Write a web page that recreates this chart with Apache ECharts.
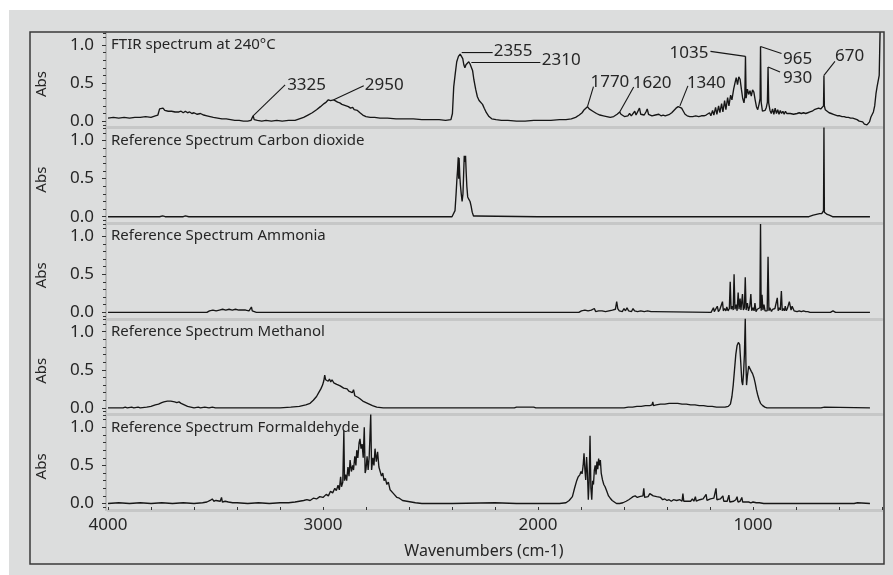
<!DOCTYPE html>
<html>
<head>
<meta charset="utf-8">
<script src="https://cdn.jsdelivr.net/npm/echarts@6/dist/echarts.min.js"></script>
<style>
  html, body { margin: 0; padding: 0; background: #ffffff; }
  #wrap { position: relative; width: 893px; height: 575px; background: #ffffff; }
  #panel { position: absolute; left: 9px; top: 10px; right: 0; bottom: 0; background: #dcdddd; }
  #chart { position: absolute; left: 0; top: 0; width: 893px; height: 575px; }
</style>
</head>
<body>
<div id="wrap"><div id="panel"></div><div id="chart"></div></div>
<script>
// ---- data: absorbance vs wavenumber (cm-1) ----
const wavenumberTicks = [4000, 3000, 2000, 1000];
const absTicks = [0, 0.5, 1.0];
const absMinorTicks = [-0.05, 0.1, 0.2, 0.3, 0.4, 0.6, 0.7, 0.8, 0.9, 1.1, 1.16];
const panelTitles = [
  'FTIR spectrum at 240°C',
  'Reference Spectrum Carbon dioxide',
  'Reference Spectrum Ammonia',
  'Reference Spectrum Methanol',
  'Reference Spectrum Formaldehyde'
];
const peakMarks = [3325, 2950, 2355, 2310, 1770, 1620, 1340, 1035, 965, 930, 670];

const ftir240 = [
  [4000,0.04],[3975,0.05],[3950,0.04],[3925,0.05],[3900,0.04],[3875,0.05],[3850,0.05],[3825,0.06],[3800,0.05],[3780,0.07],[3768,0.08],[3760,0.16],[3752,0.15],[3744,0.17],[3736,0.14],[3728,0.16],[3720,0.13],[3712,0.15],[3704,0.13],[3696,0.14],[3688,0.12],[3680,0.14],[3670,0.12],[3660,0.13],[3650,0.11],[3640,0.13],[3630,0.11],[3620,0.12],[3610,0.1],[3600,0.11],[3585,0.09],[3570,0.1],[3555,0.08],[3540,0.07],[3525,0.06],[3510,0.05],[3490,0.04],[3470,0.03],[3450,0.03],[3430,0.02],[3410,0.01],[3390,0.01],[3370,0.0],[3350,0.0],[3335,0.01],[3328,0.02],[3325,0.07],[3320,0.02],[3305,0.01],[3285,0.0],[3265,0.01],[3240,0.0],[3215,0.01],[3190,0.0],[3160,0.01],[3130,0.01],[3110,0.03],[3090,0.05],[3070,0.08],[3050,0.11],[3030,0.15],[3012,0.19],[2995,0.23],[2985,0.25],[2975,0.28],[2965,0.27],[2958,0.28],[2950,0.28],[2942,0.26],[2932,0.25],[2922,0.24],[2912,0.22],[2902,0.21],[2892,0.2],[2882,0.19],[2872,0.17],[2862,0.18],[2855,0.15],[2848,0.17],[2840,0.14],[2828,0.11],[2815,0.08],[2800,0.06],[2780,0.05],[2760,0.05],[2735,0.04],[2700,0.04],[2660,0.03],[2620,0.03],[2580,0.03],[2540,0.02],[2500,0.02],[2460,0.02],[2430,0.01],[2405,0.02],[2398,0.1],[2392,0.45],[2385,0.62],[2378,0.78],[2370,0.85],[2362,0.88],[2355,0.9],[2350,0.82],[2345,0.74],[2340,0.7],[2335,0.74],[2328,0.72],[2322,0.78],[2316,0.75],[2310,0.77],[2304,0.66],[2298,0.54],[2290,0.42],[2282,0.32],[2274,0.27],[2266,0.26],[2258,0.22],[2250,0.17],[2240,0.11],[2228,0.06],[2215,0.03],[2195,0.02],[2170,0.01],[2140,0.01],[2100,0.0],[2060,0.0],[2020,0.01],[1980,0.01],[1940,0.01],[1900,0.02],[1870,0.02],[1845,0.03],[1825,0.05],[1808,0.08],[1795,0.11],[1785,0.15],[1776,0.17],[1770,0.19],[1762,0.16],[1754,0.15],[1745,0.13],[1736,0.12],[1728,0.1],[1720,0.11],[1712,0.08],[1704,0.1],[1696,0.07],[1688,0.09],[1680,0.06],[1672,0.08],[1664,0.05],[1656,0.07],[1648,0.06],[1640,0.08],[1632,0.09],[1626,0.11],[1620,0.12],[1614,0.09],[1606,0.08],[1598,0.06],[1590,0.08],[1582,0.07],[1574,0.1],[1566,0.07],[1558,0.09],[1550,0.13],[1544,0.08],[1536,0.1],[1528,0.17],[1522,0.09],[1514,0.1],[1506,0.08],[1498,0.12],[1492,0.16],[1486,0.09],[1478,0.1],[1470,0.07],[1462,0.09],[1454,0.08],[1446,0.07],[1438,0.09],[1428,0.07],[1418,0.08],[1408,0.07],[1398,0.08],[1388,0.09],[1378,0.11],[1368,0.14],[1358,0.17],[1348,0.19],[1340,0.2],[1332,0.17],[1324,0.13],[1316,0.09],[1306,0.07],[1294,0.06],[1280,0.06],[1266,0.07],[1252,0.06],[1240,0.07],[1228,0.07],[1218,0.08],[1210,0.07],[1202,0.11],[1196,0.07],[1188,0.14],[1182,0.08],[1174,0.18],[1168,0.09],[1160,0.2],[1154,0.11],[1146,0.23],[1140,0.12],[1132,0.27],[1126,0.15],[1118,0.31],[1112,0.2],[1104,0.34],[1098,0.28],[1090,0.42],[1084,0.5],[1078,0.57],[1072,0.48],[1066,0.58],[1060,0.55],[1054,0.42],[1048,0.3],[1042,0.24],[1038,0.32],[1035,0.85],[1032,0.3],[1026,0.42],[1020,0.35],[1014,0.4],[1008,0.33],[1002,0.41],[996,0.38],[990,0.28],[984,0.19],[978,0.15],[972,0.22],[967,0.3],[965,0.98],[962,0.25],[956,0.13],[950,0.11],[944,0.14],[938,0.18],[933,0.25],[930,0.71],[927,0.24],[921,0.14],[915,0.1],[909,0.16],[903,0.09],[897,0.17],[891,0.1],[885,0.15],[879,0.09],[873,0.14],[867,0.1],[861,0.13],[855,0.09],[849,0.13],[843,0.1],[835,0.12],[827,0.1],[819,0.11],[811,0.09],[803,0.11],[795,0.1],[785,0.11],[775,0.1],[765,0.11],[755,0.1],[745,0.11],[735,0.12],[725,0.13],[715,0.15],[705,0.16],[695,0.17],[685,0.16],[676,0.15],[672,0.2],[670,0.6],[668,0.2],[664,0.15],[656,0.13],[646,0.11],[636,0.1],[626,0.09],[616,0.08],[606,0.07],[596,0.07],[586,0.06],[576,0.06],[566,0.05],[556,0.05],[546,0.04],[536,0.04],[526,0.03],[516,0.02],[506,0.0],[498,-0.02],[490,-0.01],[482,-0.04],[476,-0.02],[470,-0.05],[464,-0.03],[458,-0.01],[452,0.05],[446,0.03],[440,0.12],[434,0.2],[428,0.36],[423,0.45],[418,0.44],[413,0.6],[409,1.17]
];

const co2Ref = [
  [4000,0],[3800,0],[3760,0],[3752,0.02],[3746,0.01],[3740,0.02],[3734,0],[3650,0],[3640,0.01],[3632,0.02],[3624,0],[3500,0],[3000,0],[2500,0],[2400,0],[2392,0.01],[2386,0.08],[2381,0.3],[2377,0.5],[2374,0.62],[2371,0.78],[2369,0.5],[2367,0.77],[2364,0.55],[2361,0.42],[2357,0.3],[2353,0.2],[2349,0.3],[2346,0.55],[2343,0.8],[2340,0.72],[2337,0.8],[2334,0.58],[2331,0.4],[2327,0.26],[2322,0.23],[2316,0.2],[2311,0.14],[2306,0.06],[2300,0.01],[2294,0.02],[2288,0.01],[2280,0],[2000,0],[1500,0],[1000,0],[760,0],[740,0],[730,0.01],[720,0.02],[712,0.04],[705,0.03],[698,0.05],[690,0.04],[684,0.06],[680,0.04],[676,0.05],[672,0.08],[670,1.17],[668,0.06],[664,0.04],[660,0.05],[655,0.03],[650,0.04],[645,0.02],[640,0.01],[630,0],[456,0]
];

const nh3Ref = [
  [4000,0],[3870,0],[3862,0.02],[3856,0],[3755,0],[3750,0.02],[3744,0],[3540,0],[3535,0.01],[3528,0.02],[3520,0.01],[3512,0.03],[3505,0.01],[3497,0.02],[3490,0.01],[3482,0.03],[3475,0.01],[3467,0.04],[3460,0.02],[3452,0.03],[3445,0.01],[3437,0.04],[3430,0.02],[3422,0.03],[3415,0.01],[3407,0.04],[3400,0.02],[3392,0.03],[3384,0.01],[3376,0.03],[3368,0.02],[3360,0.03],[3352,0.01],[3344,0.02],[3337,0.03],[3333,0.07],[3329,0.02],[3322,0.01],[3310,0],[3290,0],[3285,0.02],[3280,0],[3252,0],[3247,0.02],[3242,0],[3216,0],[3211,0.02],[3206,0],
  [1810,0],[1805,0.01],[1798,0.02],[1790,0.01],[1782,0.03],[1775,0.01],[1767,0.02],[1760,0.01],[1752,0.03],[1745,0.02],[1738,0.05],[1732,0.01],[1725,0.03],[1718,0.02],[1710,0.04],[1702,0.02],[1694,0.03],[1686,0.01],[1678,0.03],[1670,0.02],[1662,0.04],[1654,0.03],[1646,0.05],[1640,0.04],[1634,0.14],[1629,0.05],[1622,0.02],[1615,0.03],[1608,0.01],[1600,0.05],[1593,0.02],[1586,0.06],[1579,0.02],[1572,0.04],[1565,0.01],[1558,0.05],[1551,0.02],[1544,0.04],[1537,0.01],[1530,0.03],[1522,0.02],[1514,0.04],[1506,0.01],[1498,0.03],[1490,0.02],[1482,0.03],[1474,0.01],[1466,0.02],[1458,0.01],[1452,0],
  [1195,0],[1188,0.02],[1184,0.06],[1180,0.01],[1172,0.03],[1166,0.08],[1161,0.01],[1154,0.04],[1146,0.06],[1142,0.14],[1138,0.02],[1132,0.05],[1126,0.02],[1122,0.07],[1116,0.02],[1110,0.05],[1106,0.4],[1102,0.04],[1096,0.08],[1092,0.03],[1088,0.5],[1084,0.04],[1078,0.1],[1074,0.02],[1069,0.26],[1065,0.04],[1060,0.18],[1056,0.03],[1049,0.24],[1045,0.03],[1040,0.06],[1036,0.46],[1032,0.03],[1026,0.12],[1021,0.02],[1015,0.08],[1010,0.24],[1006,0.02],[1000,0.06],[995,0.02],[991,0.12],[986,0.01],[980,0.04],[974,0.02],[968,0.06],[965,1.16],[962,0.02],[958,0.23],[954,0.03],[949,0.1],[944,0.02],[938,0.04],[934,0.02],[930,0.73],[926,0.02],[922,0.06],[918,0.08],[914,0.01],[909,0.04],[904,0.02],[898,0.05],[892,0.03],[887,0.19],[883,0.02],[878,0.06],[873,0.03],[868,0.28],[864,0.02],[859,0.05],[854,0.02],[850,0.08],[845,0.02],[840,0.05],[835,0.03],[831,0.14],[827,0.16],[823,0.03],[818,0.08],[814,0.06],[809,0.02],[804,0.03],[795,0.01],[785,0.02],[775,0.01],[765,0.02],[755,0.01],[745,0.01],[735,0],[640,0],[634,0.02],[628,0.02],[622,0.01],[616,0],[456,0]
];

const meohRef = [
  [4000,0],[3930,0],[3920,0.01],[3910,0],[3890,0.01],[3880,0],[3860,0.01],[3850,0],[3820,0.01],[3800,0.02],[3780,0.04],[3765,0.05],[3750,0.07],[3740,0.08],[3732,0.07],[3724,0.09],[3716,0.08],[3708,0.09],[3700,0.07],[3690,0.08],[3680,0.07],[3670,0.08],[3660,0.06],[3645,0.04],[3630,0.02],[3615,0.01],[3600,0],[3580,0.01],[3570,0],[3550,0.01],[3530,0],[3515,0.01],[3500,0],[3200,0],[3150,0.01],[3110,0.02],[3080,0.04],[3060,0.06],[3045,0.1],[3030,0.15],[3020,0.2],[3010,0.25],[3002,0.3],[2996,0.36],[2992,0.43],[2988,0.37],[2982,0.39],[2976,0.35],[2970,0.38],[2964,0.34],[2958,0.37],[2950,0.33],[2944,0.35],[2936,0.31],[2928,0.33],[2920,0.29],[2912,0.28],[2904,0.26],[2896,0.24],[2888,0.25],[2880,0.22],[2872,0.24],[2864,0.2],[2858,0.24],[2852,0.16],[2846,0.18],[2838,0.14],[2828,0.12],[2815,0.09],[2800,0.07],[2785,0.05],[2770,0.03],[2750,0.01],[2720,0],
  [2110,0],[2100,0.01],[2090,0.01],[2070,0.01],[2040,0.01],[2020,0.01],[2010,0],[1600,0],[1580,0.01],[1560,0.01],[1540,0.02],[1520,0.02],[1500,0.03],[1480,0.03],[1470,0.04],[1466,0.08],[1463,0.03],[1450,0.04],[1430,0.05],[1410,0.05],[1390,0.06],[1370,0.06],[1350,0.06],[1330,0.05],[1310,0.05],[1290,0.04],[1270,0.04],[1250,0.03],[1230,0.03],[1210,0.02],[1190,0.02],[1170,0.01],[1150,0.01],[1130,0.01],[1115,0.02],[1105,0.05],[1098,0.15],[1092,0.3],[1086,0.5],[1080,0.7],[1074,0.82],[1068,0.86],[1062,0.83],[1057,0.6],[1052,0.35],[1048,0.3],[1044,0.45],[1040,0.7],[1036,1.17],[1033,0.6],[1030,0.3],[1026,0.42],[1020,0.55],[1014,0.53],[1008,0.48],[1002,0.45],[996,0.4],[990,0.33],[984,0.24],[978,0.17],[972,0.11],[965,0.06],[955,0.03],[945,0.01],[935,0],[700,0],[692,0.01],[684,0],[676,0.01],[668,0.01],[660,0],[456,0]
];

const hchoRef = [
  [4000,0],[3950,0.01],[3900,0],[3850,0.01],[3800,0],[3750,0.01],[3700,0],[3650,0.01],[3600,0],[3560,0.01],[3540,0.02],[3525,0.04],[3515,0.06],[3508,0.03],[3498,0.04],[3490,0.02],[3478,0.03],[3472,0.08],[3468,0.02],[3455,0.03],[3440,0.02],[3420,0.01],[3400,0.01],[3350,0],[3300,0.01],[3250,0],[3200,0.01],[3160,0.01],[3130,0.02],[3110,0.03],[3090,0.04],[3075,0.05],[3060,0.04],[3045,0.07],[3030,0.06],[3015,0.09],[3000,0.08],[2985,0.12],[2975,0.1],[2965,0.16],[2955,0.14],[2945,0.2],[2938,0.17],[2930,0.24],[2924,0.18],[2918,0.35],[2914,0.22],[2908,0.28],[2903,0.96],[2900,0.3],[2895,0.38],[2890,0.3],[2884,0.48],[2879,0.36],[2874,0.57],[2868,0.42],[2862,0.5],[2858,0.44],[2852,0.62],[2847,0.5],[2843,0.7],[2838,0.6],[2832,0.8],[2828,0.85],[2823,0.72],[2818,0.78],[2813,0.6],[2808,1.0],[2804,0.4],[2800,0.45],[2795,0.62],[2790,0.44],[2785,0.62],[2778,1.17],[2774,0.44],[2768,0.6],[2763,0.5],[2758,0.72],[2752,0.55],[2746,0.68],[2740,0.48],[2735,0.5],[2728,0.36],[2722,0.4],[2716,0.3],[2710,0.33],[2703,0.25],[2696,0.28],[2688,0.18],[2680,0.2],[2672,0.13],[2664,0.12],[2656,0.08],[2645,0.07],[2630,0.04],[2610,0.03],[2590,0.02],[2570,0.01],[2540,0],[2400,0],[2200,0.01],[2100,0],[2000,0],[1900,0],[1870,0.01],[1855,0.04],[1840,0.09],[1830,0.2],[1820,0.3],[1813,0.35],[1805,0.38],[1800,0.42],[1795,0.39],[1790,0.5],[1786,0.66],[1782,0.45],[1778,0.31],[1774,0.61],[1770,0.4],[1766,0.05],[1762,0.3],[1758,0.89],[1754,0.2],[1750,0.05],[1746,0.3],[1742,0.25],[1738,0.44],[1734,0.5],[1730,0.38],[1726,0.55],[1722,0.45],[1718,0.59],[1714,0.5],[1710,0.57],[1706,0.4],[1700,0.31],[1694,0.25],[1688,0.22],[1680,0.16],[1672,0.1],[1664,0.07],[1655,0.04],[1645,0.02],[1635,0],[1620,0],[1605,0.01],[1590,0.03],[1578,0.05],[1568,0.07],[1558,0.09],[1548,0.1],[1538,0.08],[1528,0.09],[1520,0.07],[1512,0.1],[1508,0.2],[1504,0.08],[1496,0.06],[1488,0.09],[1480,0.13],[1472,0.12],[1464,0.1],[1456,0.08],[1448,0.09],[1440,0.07],[1430,0.08],[1420,0.05],[1410,0.06],[1400,0.04],[1390,0.05],[1380,0.03],[1370,0.05],[1362,0.03],[1355,0.04],[1348,0.03],[1340,0.05],[1330,0.03],[1326,0.13],[1322,0.03],[1314,0.04],[1306,0.03],[1298,0.05],[1290,0.03],[1282,0.06],[1275,0.03],[1268,0.09],[1264,0.03],[1256,0.04],[1248,0.05],[1240,0.04],[1232,0.06],[1224,0.04],[1218,0.12],[1214,0.04],[1206,0.05],[1198,0.06],[1190,0.05],[1182,0.07],[1176,0.06],[1172,0.2],[1168,0.05],[1160,0.04],[1152,0.06],[1144,0.04],[1140,0.1],[1136,0.03],[1128,0.04],[1120,0.03],[1112,0.11],[1108,0.02],[1100,0.04],[1090,0.03],[1080,0.05],[1074,0.09],[1070,0.02],[1060,0.03],[1052,0.08],[1048,0.02],[1040,0.03],[1030,0.02],[1020,0.02],[1010,0.01],[1000,0.02],[985,0.01],[970,0.01],[950,0],[530,0],[522,0.01],[514,0.01],[506,0],[456,0]
];

const spectra = [ftir240, co2Ref, nh3Ref, meohRef, hchoRef];

// ---- layout ----
const PLOT_LEFT = 108, PLOT_RIGHT = 11, PANEL_TOP = 32, PANEL_H = 95.6;
const Y_MIN = -0.085, Y_MAX = 1.17;
const FONT = '"Noto Sans", "Liberation Sans", sans-serif';
const INK = '#161616';
const TEXT = '#262626';

// leader-line offsets (px) from each peak top, then text offset from the line end
const leaderLayout = {
  3325: { end: [32, -31], text: [2, 0, 'left'] },
  2950: { end: [30, -14], text: [1, -1, 'left'] },
  2355: { end: [31, 0], text: [1, -1, 'left'] },
  2310: { end: [69, 0], text: [1.5, -2.5, 'left'] },
  1770: { end: [6, -20], text: [-3, -4, 'left'] },
  1620: { end: [14, -25], text: [-1, -4, 'left'] },
  1340: { end: [8, -20], text: [-1, -3, 'left'] },
  1035: { end: [-35, -5], text: [-2, 2, 'right'] },
  965: { end: [21, 7], text: [1.5, 6, 'left'] },
  930: { end: [12, 5], text: [3, 6, 'left'] },
  670: { end: [11, -14], text: [0, -5, 'left'] }
};

const chart = echarts.init(document.getElementById('chart'), null, { renderer: 'canvas' });

const grids = [], xAxes = [], yAxes = [], series = [];
for (let i = 0; i < spectra.length; i++) {
  const last = i === spectra.length - 1;
  grids.push({ left: PLOT_LEFT, right: PLOT_RIGHT, top: PANEL_TOP + i * PANEL_H, height: PANEL_H, containLabel: false });
  xAxes.push({
    gridIndex: i, type: 'value', inverse: true, min: 400, max: 4000, interval: 200,
    axisLine: { show: true, onZero: false, lineStyle: { color: '#c6c7c7', width: 3 } },
    axisTick: { show: last, inside: true, length: 3, lineStyle: { color: '#333', width: 1 } },
    axisLabel: {
      show: last, customValues: wavenumberTicks, margin: 7,
      formatter: v => String(v), color: TEXT, fontSize: 17, fontFamily: FONT
    },
    splitLine: { show: false }
  });
}
for (let i = 0; i < spectra.length; i++) {
  yAxes.push({
    gridIndex: i, type: 'value', position: 'left', offset: 2, min: Y_MIN, max: Y_MAX,
    axisLine: { show: true, onZero: false, lineStyle: { color: '#b9baba', width: 2 } },
    axisTick: { show: true, customValues: absTicks, length: 4, lineStyle: { color: '#333', width: 1 } },
    axisLabel: {
      show: true, customValues: absTicks, margin: 12,
      formatter: v => v.toFixed(1), color: TEXT, fontSize: 17, fontFamily: FONT
    },
    splitLine: { show: false }
  });
}
for (let i = 0; i < spectra.length; i++) {
  yAxes.push({
    gridIndex: i, type: 'value', position: 'left', offset: 2, min: Y_MIN, max: Y_MAX,
    axisLine: { show: false },
    axisTick: { show: true, customValues: absMinorTicks, length: 3, lineStyle: { color: '#333', width: 1 } },
    axisLabel: { show: false },
    splitLine: { show: false }
  });
}
spectra.forEach((data, i) => {
  series.push({
    type: 'line', xAxisIndex: i, yAxisIndex: i, data: data,
    showSymbol: false, symbol: 'none', clip: false, z: 3,
    lineStyle: { color: INK, width: 1.35 },
    emphasis: { disabled: true }
  });
});

chart.setOption({
  animation: false,
  backgroundColor: 'transparent',
  grid: grids, xAxis: xAxes, yAxis: yAxes, series: series
});

// ---- titles, axis names, frame and peak annotations ----
const graphics = [];
graphics.push({
  type: 'rect', z: 20, silent: true,
  shape: { x: 30, y: 32, width: 854, height: 532 },
  style: { fill: 'none', stroke: '#3a3a3a', lineWidth: 1.5 }
});
panelTitles.forEach((t, i) => {
  const top = chart.convertToPixel({ xAxisIndex: i, yAxisIndex: i }, [4000, 1.0]);
  graphics.push({
    type: 'text', z: 20, silent: true, x: top[0] + 3, y: top[1],
    style: { text: t, fill: TEXT, font: '15px ' + FONT, textAlign: 'left', textVerticalAlign: 'middle' }
  });
  const mid = chart.convertToPixel({ xAxisIndex: i, yAxisIndex: i }, [4000, 0.5]);
  graphics.push({
    type: 'text', z: 20, silent: true, x: 42, y: mid[1] + 1, rotation: Math.PI / 2,
    style: { text: 'Abs', fill: TEXT, font: '15px ' + FONT, textAlign: 'center', textVerticalAlign: 'middle' }
  });
});
graphics.push({
  type: 'text', z: 20, silent: true, x: 484, y: 551,
  style: { text: 'Wavenumbers (cm-1)', fill: TEXT, font: '16px ' + FONT, textAlign: 'center', textVerticalAlign: 'middle' }
});

peakMarks.forEach(wn => {
  const pt = ftir240.find(p => p[0] === wn);
  const a = chart.convertToPixel({ xAxisIndex: 0, yAxisIndex: 0 }, pt);
  const lay = leaderLayout[wn];
  const e = [a[0] + lay.end[0], a[1] + lay.end[1]];
  graphics.push({
    type: 'polyline', z: 20, silent: true,
    shape: { points: [a, e] },
    style: { stroke: INK, lineWidth: 1.1, fill: 'none' }
  });
  graphics.push({
    type: 'text', z: 20, silent: true, x: e[0] + lay.text[0], y: e[1] + lay.text[1],
    style: { text: String(wn), fill: TEXT, font: '17px ' + FONT, textAlign: lay.text[2], textVerticalAlign: 'middle' }
  });
});

chart.setOption({ graphic: { elements: graphics } });
</script>
</body>
</html>
